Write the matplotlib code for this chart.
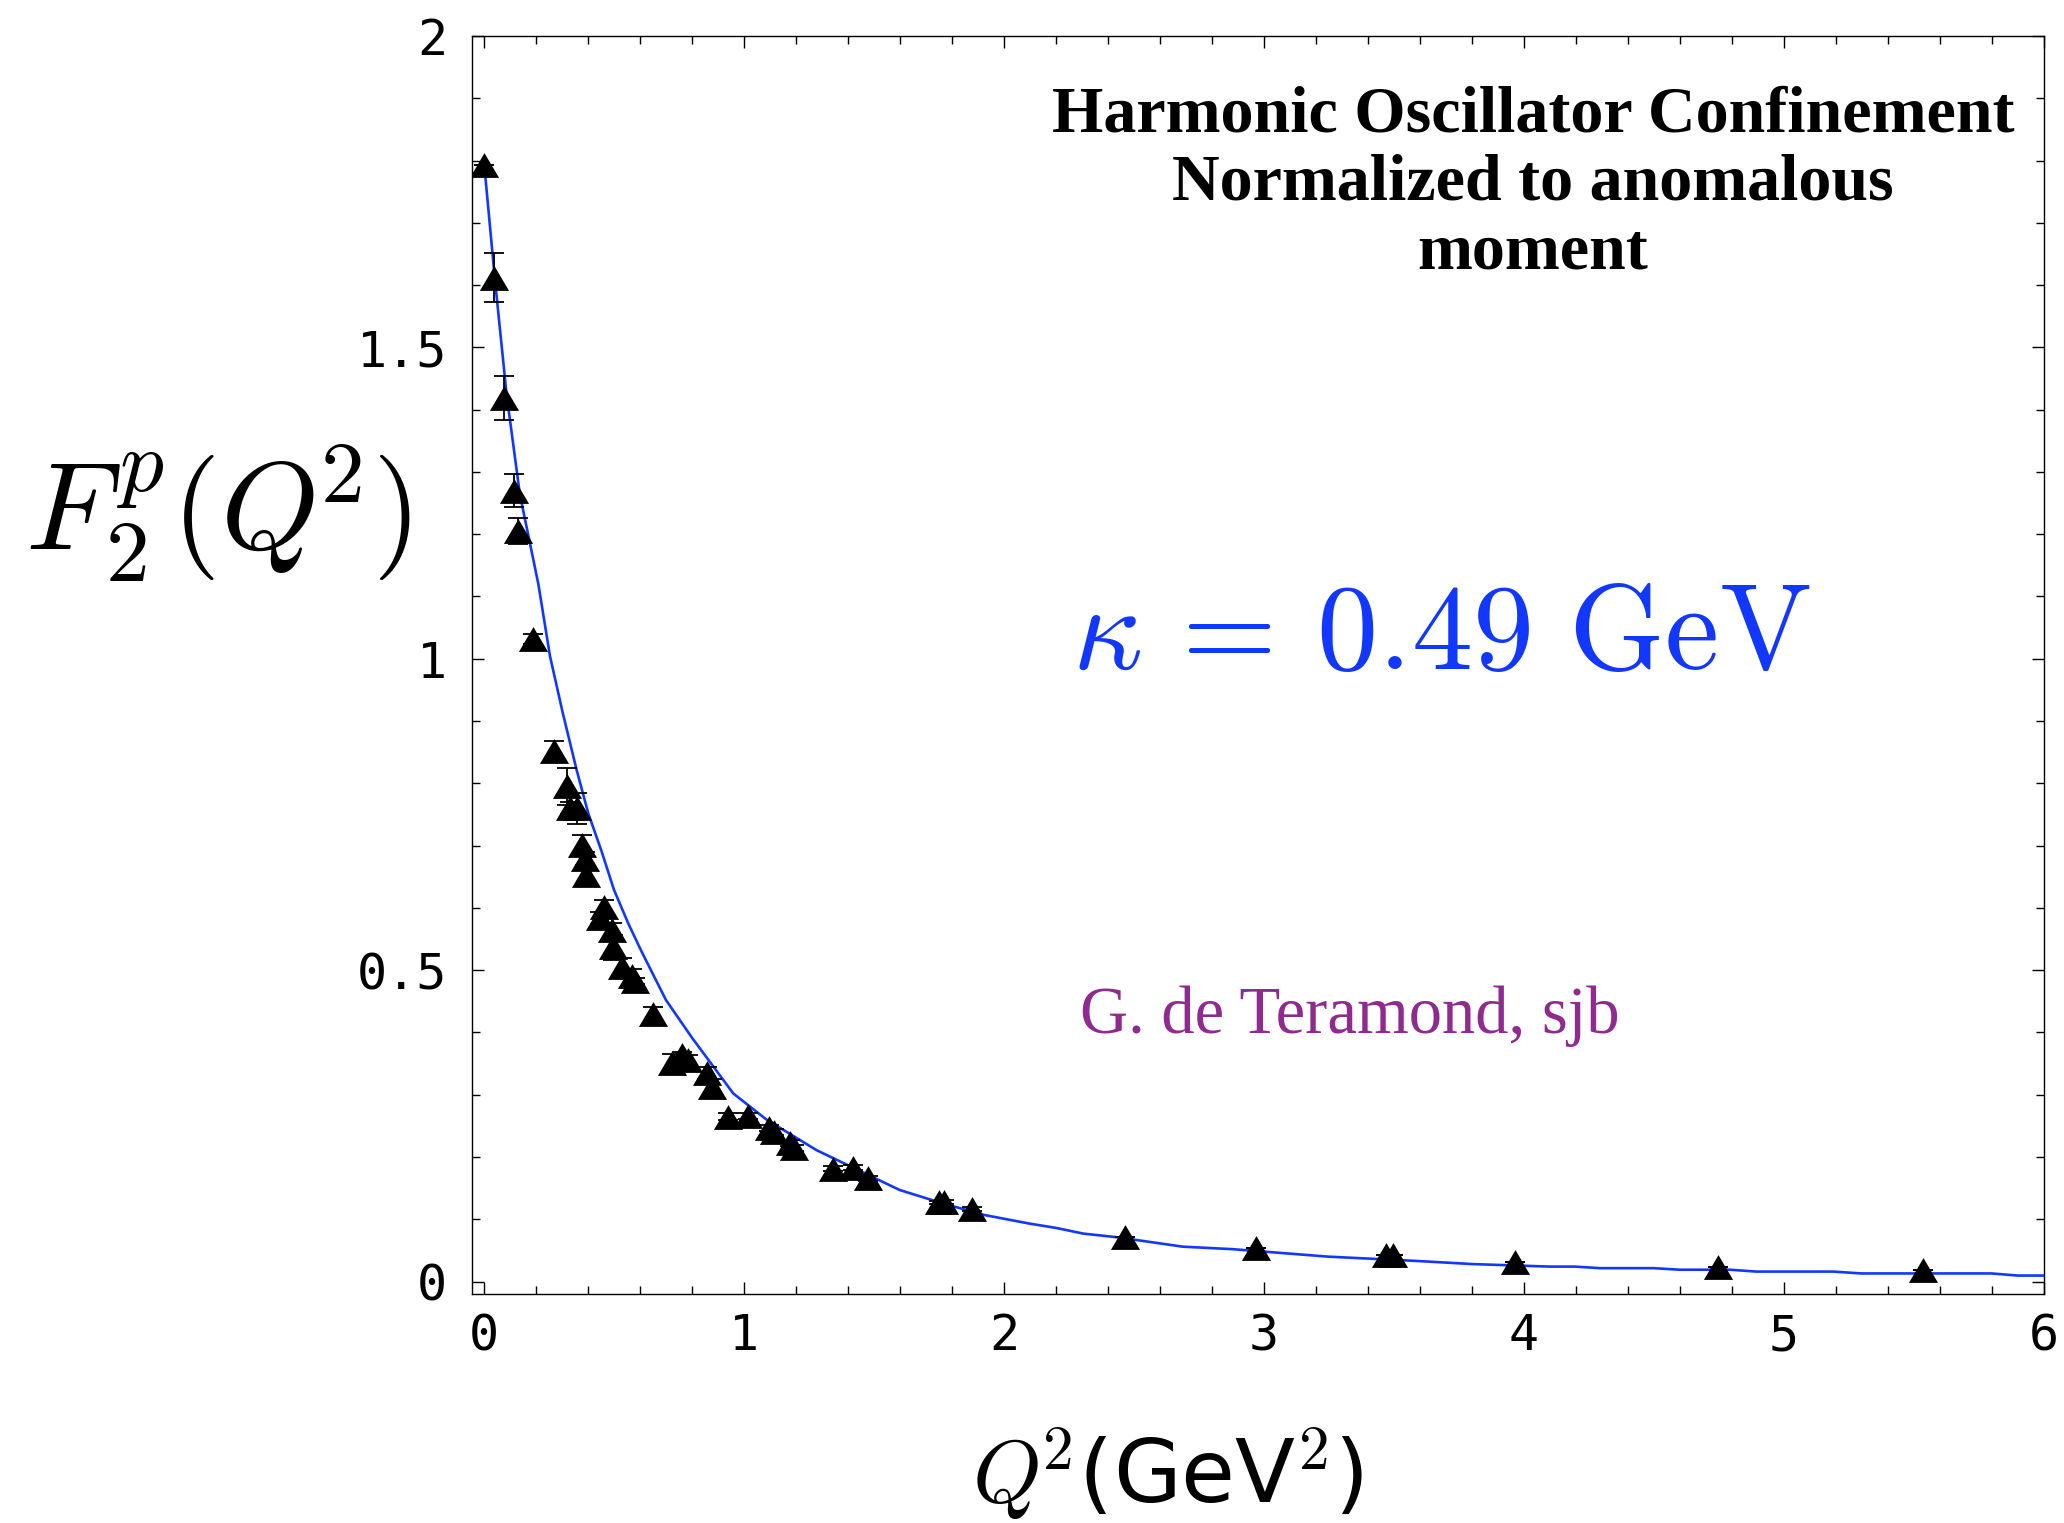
import matplotlib
matplotlib.use("Agg")
import matplotlib.pyplot as plt
from matplotlib.ticker import MultipleLocator, FixedLocator, FixedFormatter

# ---- data ----
q2 = [0.0, 0.038, 0.077, 0.114, 0.128, 0.189, 0.269, 0.319, 0.330, 0.355,
      0.376, 0.387, 0.391, 0.445, 0.459, 0.490, 0.497, 0.528, 0.568, 0.580,
      0.648, 0.721, 0.760, 0.783, 0.856, 0.876, 0.937, 1.016, 1.095, 1.115,
      1.176, 1.192, 1.342, 1.418, 1.477, 1.750, 1.767, 1.876, 2.466, 2.967,
      3.470, 3.496, 3.964, 4.746, 5.535]
f2 = [1.793, 1.612, 1.419, 1.270, 1.205, 1.032, 0.852, 0.795, 0.760, 0.760,
      0.701, 0.679, 0.652, 0.584, 0.601, 0.564, 0.537, 0.505, 0.490, 0.483,
      0.429, 0.351, 0.363, 0.356, 0.335, 0.313, 0.265, 0.266, 0.246, 0.240,
      0.222, 0.214, 0.181, 0.183, 0.166, 0.127, 0.128, 0.116, 0.072, 0.054,
      0.042, 0.042, 0.032, 0.024, 0.019]
f2_err = [0.0, 0.039, 0.035, 0.026, 0.021, 0.008, 0.016, 0.030, 0.010, 0.025,
          0.016, 0.010, 0.010, 0.010, 0.012, 0.012, 0.020, 0.015, 0.012, 0.005,
          0.012, 0.015, 0.005, 0.008, 0.010, 0.012, 0.005, 0.005, 0.005, 0.005,
          0.005, 0.005, 0.004, 0.004, 0.004, 0.003, 0.003, 0.003, 0.0, 0.0,
          0.0, 0.0, 0.0, 0.0, 0.0]

curve_q2 = [0.0, 0.041, 0.086, 0.137, 0.176, 0.208, 0.253, 0.302, 0.355, 0.400,
            0.452, 0.499, 0.554, 0.605, 0.699, 0.800, 0.958, 1.086, 1.278, 1.408,
            1.598, 1.760, 1.922, 2.098, 2.201, 2.304, 2.437, 2.687, 2.878, 3.246,
            3.590, 3.804, 4.099, 4.195, 4.291, 4.496, 4.599, 4.791, 4.894, 5.188,
            5.298, 5.798, 5.900, 6.0]
curve_f2 = [1.793, 1.609, 1.424, 1.264, 1.185, 1.120, 1.004, 0.913, 0.822, 0.752,
            0.690, 0.629, 0.575, 0.530, 0.452, 0.391, 0.302, 0.260, 0.211, 0.185,
            0.147, 0.126, 0.107, 0.093, 0.086, 0.077, 0.071, 0.056, 0.052, 0.040,
            0.033, 0.028, 0.024, 0.024, 0.0215, 0.0215, 0.019, 0.019, 0.016, 0.016,
            0.013, 0.013, 0.0096, 0.0096]

x_ticks = [0, 1, 2, 3, 4, 5, 6]
x_tick_labels = ["0", "1", "2", "3", "4", "5", "6"]
y_ticks = [0, 0.5, 1, 1.5, 2]
y_tick_labels = ["0", "0.5", "1", "1.5", "2"]

title_lines = ["Harmonic Oscillator Confinement", "Normalized to anomalous", "moment"]
kappa_text = r"$\kappa\,=\,0.49\ \mathrm{GeV}$"
author_text = "G. de Teramond, sjb"

# ---- styling ----
plt.rcParams["mathtext.fontset"] = "cm"
BLUE = "#1238ff"
PURPLE = "#8f2a8f"
W, H = 2064, 1523
DPI = 100

fig = plt.figure(figsize=(W / DPI, H / DPI), dpi=DPI)
ax = fig.add_axes([472.3 / W, 1 - 1294 / H, (2044 - 472.3) / W, (1294 - 36) / H])

ax.plot(curve_q2, curve_f2, color=BLUE, lw=1.9, zorder=2, clip_on=True)
ax.errorbar(q2, f2, yerr=f2_err, fmt="none", ecolor="black", elinewidth=1.3,
            capsize=7.5, capthick=1.3, zorder=3)
tri = [(0, 0.85), (-1, -0.85), (1, -0.85), (0, 0.85)]
ax.plot(q2, f2, linestyle="none", marker=tri, markersize=21,
        color="black", markeredgewidth=0, zorder=4)

ax.set_xlim(-0.046, 6.0)
ax.set_ylim(-0.02, 2.0)

ax.xaxis.set_major_locator(FixedLocator(x_ticks))
ax.xaxis.set_major_formatter(FixedFormatter(x_tick_labels))
ax.yaxis.set_major_locator(FixedLocator(y_ticks))
ax.yaxis.set_major_formatter(FixedFormatter(y_tick_labels))
ax.xaxis.set_minor_locator(MultipleLocator(0.2))
ax.yaxis.set_minor_locator(MultipleLocator(0.1))

ax.tick_params(which="both", direction="in", top=True, right=True, width=1.0,
               color="black")
ax.tick_params(which="major", length=8.5)
ax.tick_params(which="minor", length=5.5)
ax.tick_params(axis="x", which="major", pad=13, labelsize=36)
ax.tick_params(axis="y", which="major", pad=18, labelsize=36)
for lab in ax.get_xticklabels() + ax.get_yticklabels():
    lab.set_family("DejaVu Sans Mono")
for s in ax.spines.values():
    s.set_linewidth(1.0)

# axis labels as free text
fig.text(218 / W, 1 - 550 / H, r"$F_2^p(Q^{\!2})$", fontsize=90, ha="center",
         va="baseline")
fig.text(1168 / W, 1 - 1503 / H, r"$Q^{\!\mathsf{2}}$(GeV$^{\mathsf{2}}$)",
         fontsize=63, ha="center", va="baseline", family="DejaVu Sans")

# title block
for i, line in enumerate(title_lines):
    fig.text(1533 / W, 1 - (131.7 + 68.3 * i) / H, line, fontsize=47.5,
             fontweight="bold", family="Liberation Serif", ha="center",
             va="baseline")

fig.text(1441.6 / W, 1 - 669.3 / H, kappa_text, fontsize=88, color=BLUE,
         ha="center", va="baseline")
fig.text(1080 / W, 1 - 1033.3 / H, author_text, fontsize=48, color=PURPLE,
         family="Liberation Serif", ha="left", va="baseline")

fig.savefig("out.png", dpi=DPI)
